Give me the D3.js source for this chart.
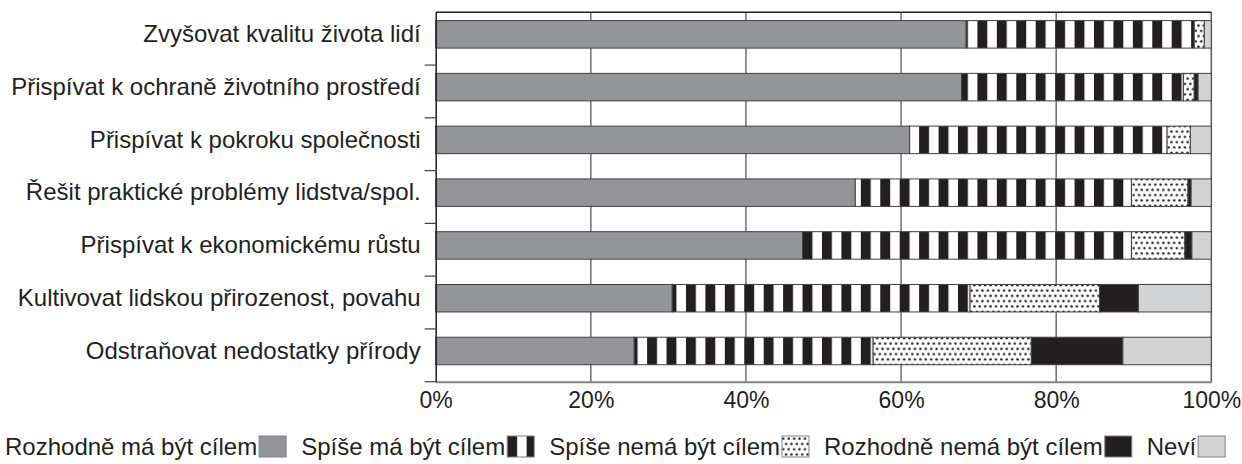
<!DOCTYPE html>
<html>
<head>
<meta charset="utf-8">
<script src="https://cdn.jsdelivr.net/npm/d3@7"></script>
<style>
  body { margin: 0; background: #fff; }
  text { font-family: "Liberation Sans", Arial, sans-serif; fill: #231f20; }
</style>
</head>
<body>
<div id="chart"></div>
<script>
var categories = [
    "Zvyšovat kvalitu života lidí",
    "Přispívat k ochraně životního prostředí",
    "Přispívat k pokroku společnosti",
    "Řešit praktické problémy lidstva/spol.",
    "Přispívat k ekonomickému růstu",
    "Kultivovat lidskou přirozenost, povahu",
    "Odstraňovat nedostatky přírody"
];
var seriesNames = ["Rozhodně má být cílem", "Spíše má být cílem", "Spíše nemá být cílem", "Rozhodně nemá být cílem", "Neví"];
var rozhodneAno = [68.4, 67.8, 61.1, 54.1, 47.3, 30.5, 25.6];
var spiseAno    = [29.4, 28.6, 33.2, 35.6, 42.4, 38.4, 30.8];
var spiseNe     = [1.3, 1.4, 3.0, 7.3, 6.9, 16.7, 20.4];
var rozhodneNe  = [0, 0.5, 0, 0.4, 0.9, 5.0, 11.8];
var nevi        = [0.9, 1.7, 2.7, 2.6, 2.5, 9.4, 11.4];
var xTicks = [0, 20, 40, 60, 80, 100];

var margin = { top: 12.3, right: 30.7, bottom: 82.3, left: 435.7 },
    width = 1242 - margin.left - margin.right,
    height = 464 - margin.top - margin.bottom;

// rows for d3.stack
var table = categories.map(function(c, i) {
    var r = { name: c };
    r[seriesNames[0]] = rozhodneAno[i];
    r[seriesNames[1]] = spiseAno[i];
    r[seriesNames[2]] = spiseNe[i];
    r[seriesNames[3]] = rozhodneNe[i];
    r[seriesNames[4]] = nevi[i];
    return r;
});
var stacked = d3.stack().keys(seriesNames)(table);

var svg = d3.select("#chart").append("svg")
    .attr("width", 1242)
    .attr("height", 464);

var defs = svg.append("defs");

// vertical stripes (one phased for the plot, one for the legend box)
function makeStripes(id, x0) {
    var p = defs.append("pattern")
        .attr("id", id)
        .attr("patternUnits", "userSpaceOnUse")
        .attr("x", x0)
        .attr("width", 19.43)
        .attr("height", 10);
    p.append("rect").attr("width", 19.43).attr("height", 10).attr("fill", "#fff");
    p.append("rect").attr("width", 9.9).attr("height", 10).attr("fill", "#231f20");
}
makeStripes("stripes", 17.1);
makeStripes("stripesLeg", 0);

// dots
var dots = defs.append("pattern")
    .attr("id", "dots")
    .attr("patternUnits", "userSpaceOnUse")
    .attr("width", 5.4)
    .attr("height", 10.6);
dots.append("rect").attr("width", 5.4).attr("height", 10.6).attr("fill", "#fff");
dots.append("circle").attr("cx", 1.35).attr("cy", 2.65).attr("r", 1.25).attr("fill", "#231f20");
dots.append("circle").attr("cx", 4.05).attr("cy", 7.95).attr("r", 1.25).attr("fill", "#231f20");

var fills = ["#939598", "url(#stripes)", "url(#dots)", "#231f20", "#d1d3d4"];
var legendFills = ["#939598", "url(#stripesLeg)", "url(#dots)", "#231f20", "#d1d3d4"];

var g = svg.append("g")
    .attr("transform", "translate(" + margin.left + "," + margin.top + ")");

var x = d3.scaleLinear().domain([0, 100]).range([0, width]);
var y = d3.scaleBand().domain(categories).range([0, height]).padding(0);

// grid lines
g.append("g")
    .selectAll("line")
    .data(xTicks.slice(1))
    .enter().append("line")
    .attr("x1", function(d) { return x(d); })
    .attr("x2", function(d) { return x(d); })
    .attr("y1", 0)
    .attr("y2", height)
    .attr("stroke", function(d) { return d == 100 ? "#58595b" : "#6d6e71"; })
    .attr("stroke-width", 1.5);

// top border
g.append("line")
    .attr("x1", 0).attr("x2", width)
    .attr("y1", 0).attr("y2", 0)
    .attr("stroke", "#231f20")
    .attr("stroke-width", 1.5);

// bars
var barOffset = 8.3, barH = 27.5;
g.append("g")
    .selectAll("g")
    .data(stacked)
    .enter().append("g")
    .attr("fill", function(d, i) { return fills[i]; })
    .selectAll("rect")
    .data(function(d) { return d.map(function(v, j) { return { v: v, cat: categories[j] }; }); })
    .enter().append("rect")
    .filter(function(d) { return d.v[1] - d.v[0] > 0; })
    .attr("x", function(d) { return x(d.v[0]); })
    .attr("width", function(d) { return x(d.v[1]) - x(d.v[0]); })
    .attr("y", function(d) { return y(d.cat) + barOffset; })
    .attr("height", barH)
    .attr("stroke", "#414042")
    .attr("stroke-width", 1);

// x axis
var xAxis = g.append("g")
    .attr("transform", "translate(0," + height + ")")
    .call(d3.axisBottom(x).tickValues(xTicks).tickSize(0).tickPadding(10)
        .tickFormat(function(d) { return d + "%"; }));
xAxis.select(".domain").attr("stroke", "#808285").attr("stroke-width", 2);
xAxis.selectAll("text")
    .style("font-size", "23px")
    .attr("fill", "#231f20");

// y axis
var yAxis = g.append("g")
    .call(d3.axisLeft(y).tickSize(0).tickPadding(15));
yAxis.select(".domain").attr("stroke", "#231f20").attr("stroke-width", 1.5);
yAxis.selectAll("text")
    .attr("y", barOffset + barH / 2 - y.bandwidth() / 2)
    .style("font-size", "24px")
    .attr("fill", "#231f20");

// small ticks at band boundaries
g.append("g")
    .selectAll("line")
    .data(categories)
    .enter().append("line")
    .attr("x1", -11).attr("x2", 0)
    .attr("y1", function(d) { return y(d) + y.bandwidth(); })
    .attr("y2", function(d) { return y(d) + y.bandwidth(); })
    .attr("stroke", "#414042")
    .attr("stroke-width", 1.2);

// legend
var legend = svg.append("g").attr("transform", "translate(0,455)");
var lx = 5;
seriesNames.forEach(function(name, i) {
    var t = legend.append("text")
        .attr("x", lx)
        .style("font-size", "24px")
        .text(name);
    lx += t.node().getComputedTextLength() + 2;
    legend.append("g")
        .attr("transform", "translate(" + lx + ",-19)")
        .append("rect")
        .attr("width", 27)
        .attr("height", 21)
        .attr("fill", legendFills[i])
        .attr("stroke", "#808285")
        .attr("stroke-width", 1);
    lx += 27 + 15;
});
</script>
</body>
</html>
